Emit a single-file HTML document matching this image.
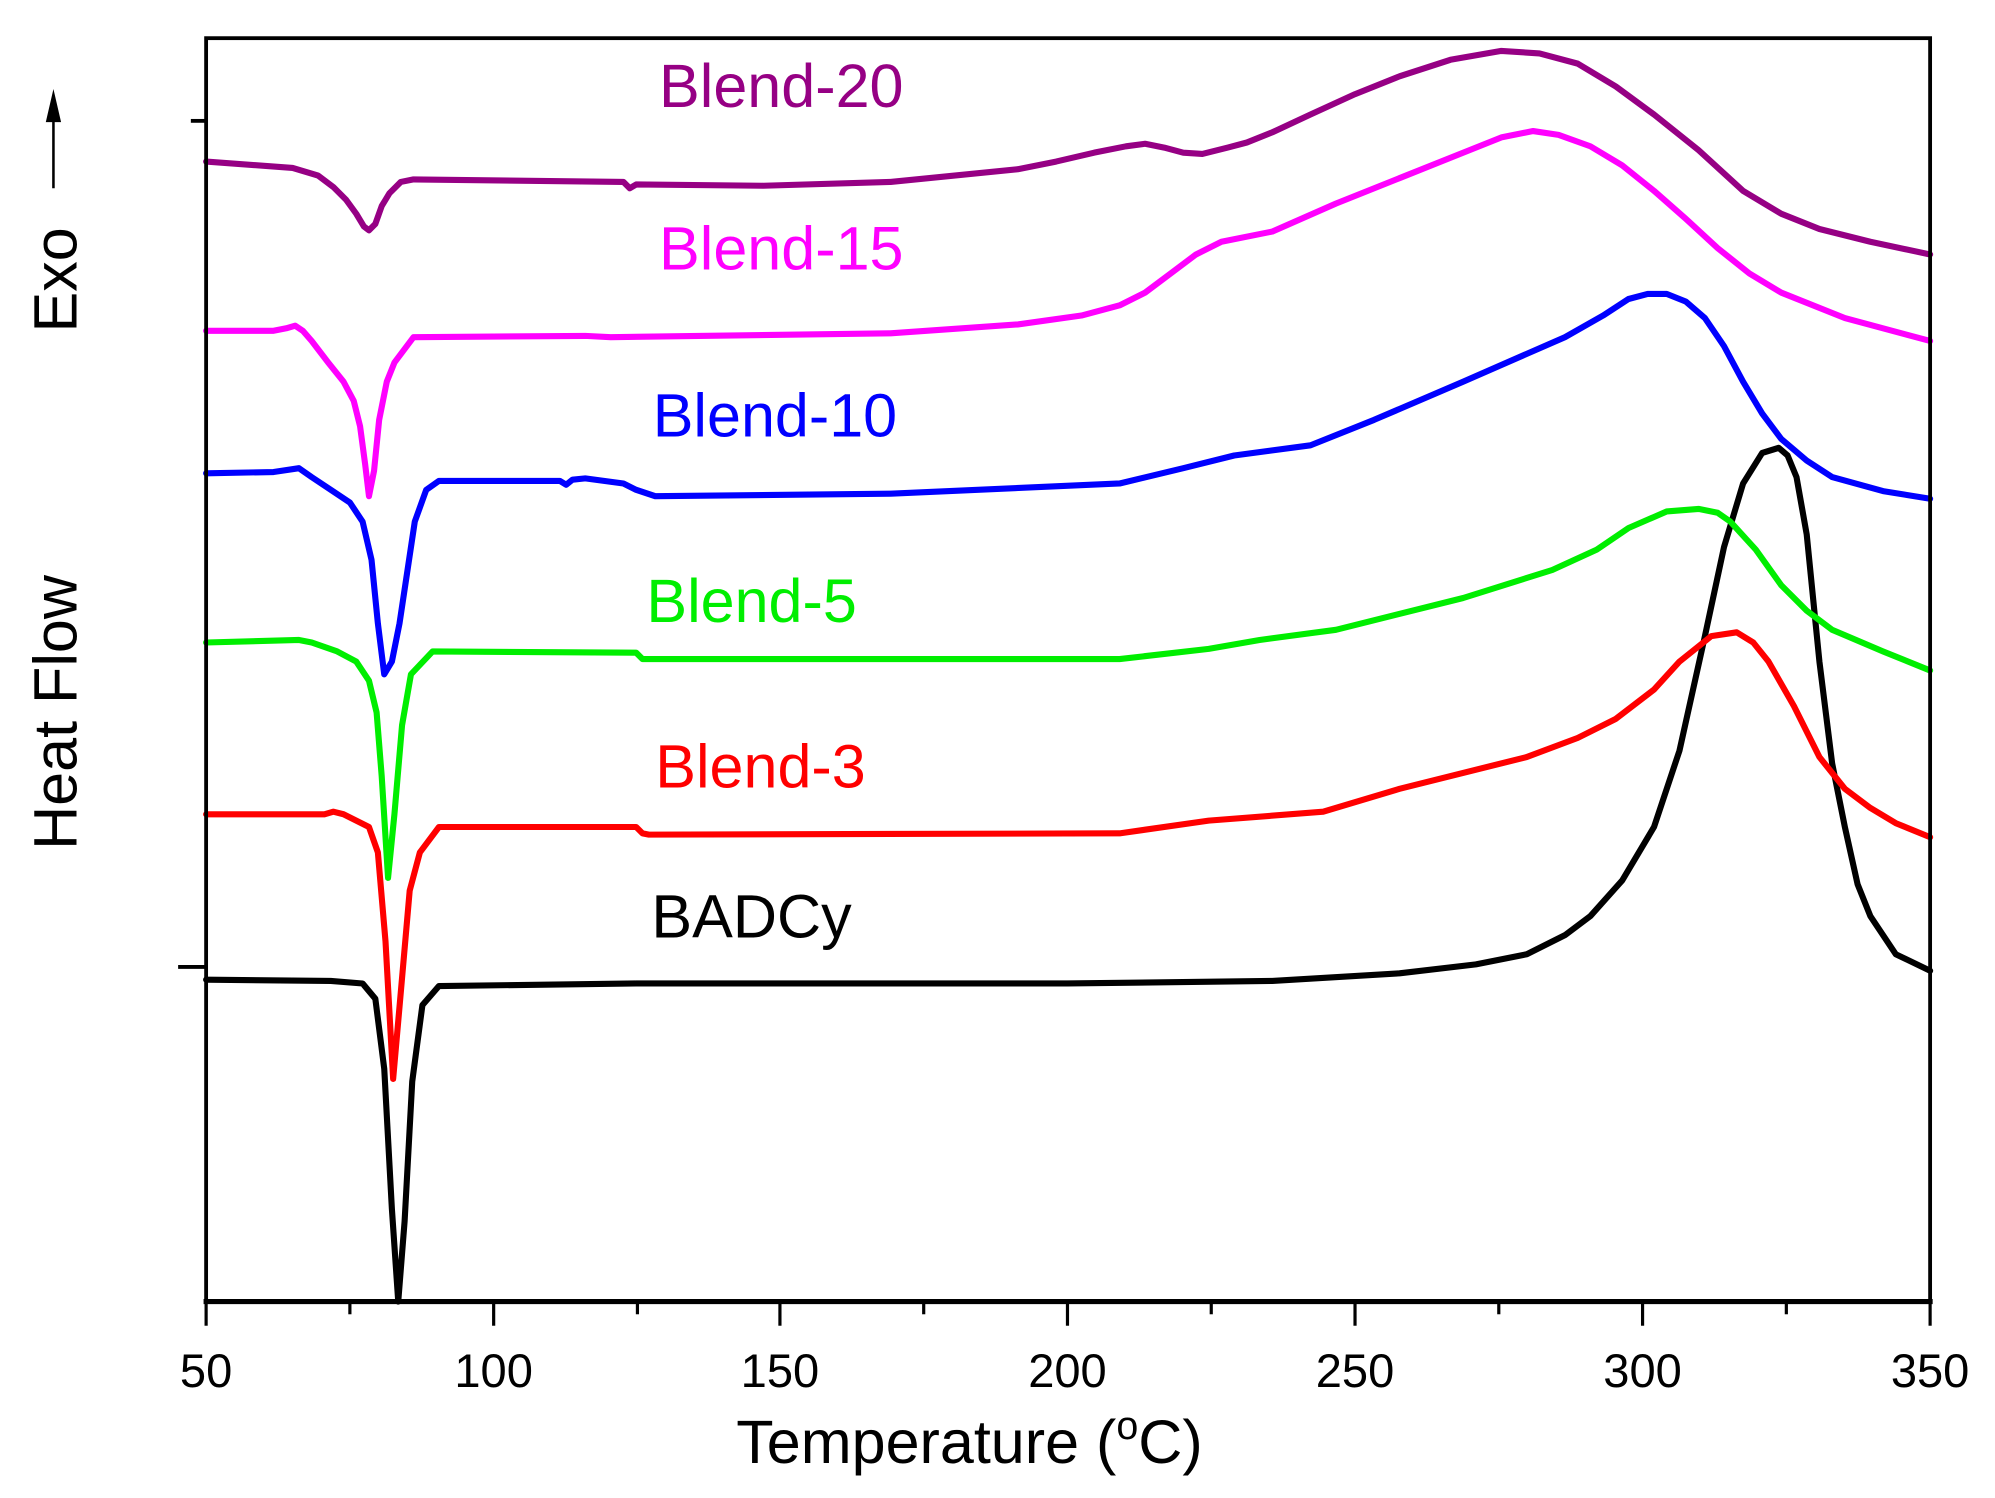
<!DOCTYPE html>
<html><head><meta charset="utf-8"><style>body{margin:0;background:#fff}svg{display:block}</style></head>
<body>
<svg width="1995" height="1498" viewBox="0 0 1568 1177.4" preserveAspectRatio="none" xmlns="http://www.w3.org/2000/svg" font-family="Liberation Sans, sans-serif">
<rect width="1568" height="1178" fill="#fff"/>
<g fill="none" stroke-width="4.8" stroke-linejoin="round" stroke-linecap="round">
<polyline stroke="#000" points="162,770 260,771 285,773 295,785 302,840 308,950 313,1023 318,960 324,850 332,790 345,775 500,773 839,773 1000,771 1100,765 1160,758 1200,750 1230,735 1250,720 1275,692 1300,650 1320,590 1340,500 1355,430 1370,380 1385,356 1398,352 1405,358 1412,375 1420,420 1430,520 1440,600 1450,650 1460,695 1470,720 1490,750 1517,763"/>
<polyline stroke="#ff0000" points="162,640 255,640 262,638 270,640 290,650 297,670 303,740 309,848 315,780 322,700 330,670 345,650 500,650 505,655 510,656 880,655 950,645 1040,638 1100,620 1200,595 1240,580 1270,565 1300,542 1320,520 1345,500 1365,497 1378,505 1390,520 1410,555 1430,595 1450,620 1470,635 1490,647 1517,658"/>
<polyline stroke="#00ee00" points="162,505 235,503 245,505 265,512 280,520 290,535 296,560 300,610 305,690 310,640 316,570 323,530 340,512 500,513 505,518 520,518 880,518 950,510 990,503 1050,495 1150,470 1220,448 1255,432 1280,415 1310,402 1335,400 1350,403 1360,410 1380,432 1400,460 1420,480 1440,495 1480,512 1517,527"/>
<polyline stroke="#0000ff" points="162,372 215,371 235,368 245,375 260,385 275,395 285,410 292,440 297,490 302,530 308,520 314,490 320,450 326,410 335,385 345,378 440,378 445,381 450,377 460,376 490,380 500,385 515,390 700,388 880,380 930,368 970,358 1030,350 1080,330 1150,300 1230,265 1260,248 1280,235 1295,231 1310,231 1325,237 1340,250 1355,272 1370,300 1385,325 1400,345 1420,362 1440,375 1480,386 1517,392"/>
<polyline stroke="#ff00ff" points="162,260 215,260 225,258 232,256 238,260 245,268 258,285 270,300 278,315 283,335 287,365 290,390 294,370 298,330 304,300 310,285 325,265 460,264 480,265 700,262 800,255 850,248 880,240 900,230 920,215 940,200 960,190 1000,182 1050,160 1100,140 1150,120 1180,108 1205,103 1225,106 1250,115 1275,130 1300,150 1325,172 1350,195 1375,215 1400,230 1450,250 1517,268"/>
<polyline stroke="#960084" points="162,127 230,132 250,138 262,147 272,157 280,168 286,178 290,181 295,176 300,162 306,152 315,143 325,141 490,143 495,148 500,145 600,146 700,143 800,133 830,127 860,120 885,115 900,113 915,116 930,120 945,121 965,116 980,112 1000,104 1030,90 1065,74 1100,60 1140,47 1180,40 1210,42 1240,50 1270,68 1300,90 1335,118 1370,150 1400,168 1430,180 1470,190 1517,200"/>
</g>
<g stroke="#000" fill="none">
<rect x="162" y="30" width="1355" height="993" stroke-width="3"/>
<line x1="160" y1="1023" x2="1519" y2="1023" stroke-width="4"/>
<g stroke-width="2.5">
<line x1="162" y1="1023" x2="162" y2="1042"/><line x1="388" y1="1023" x2="388" y2="1042"/><line x1="613" y1="1023" x2="613" y2="1042"/><line x1="839" y1="1023" x2="839" y2="1042"/><line x1="1065" y1="1023" x2="1065" y2="1042"/><line x1="1291" y1="1023" x2="1291" y2="1042"/><line x1="1517" y1="1023" x2="1517" y2="1042"/>
<line x1="275" y1="1023" x2="275" y2="1033"/><line x1="501" y1="1023" x2="501" y2="1033"/><line x1="726" y1="1023" x2="726" y2="1033"/><line x1="952" y1="1023" x2="952" y2="1033"/><line x1="1178" y1="1023" x2="1178" y2="1033"/><line x1="1404" y1="1023" x2="1404" y2="1033"/>
<line x1="150" y1="95" x2="162" y2="95" stroke-width="3"/><line x1="140" y1="760" x2="162" y2="760" stroke-width="3"/>
<line x1="42" y1="148" x2="42" y2="90" stroke-width="2"/>
</g>
</g>
<polygon points="42,70 36,96 48,96" fill="#000"/>
<g font-size="37" text-anchor="middle" fill="#000">
<text x="162" y="1090">50</text><text x="388" y="1090">100</text><text x="613" y="1090">150</text><text x="839" y="1090">200</text><text x="1065" y="1090">250</text><text x="1291" y="1090">300</text><text x="1517" y="1090">350</text>
</g>
<text x="762" y="1150" font-size="48" text-anchor="middle">Temperature (<tspan font-size="31" dy="-19">o</tspan><tspan dy="19">C)</tspan></text>
<text transform="translate(60,560) rotate(-90)" font-size="48" text-anchor="middle">Heat Flow</text>
<text transform="translate(60,220) rotate(-90)" font-size="48" text-anchor="middle">Exo</text>
<g font-size="48">
<text x="518" y="84" fill="#960084">Blend-20</text>
<text x="518" y="212" fill="#ff00ff">Blend-15</text>
<text x="513" y="343" fill="#0000ff">Blend-10</text>
<text x="508" y="489" fill="#00ee00">Blend-5</text>
<text x="515" y="619" fill="#ff0000">Blend-3</text>
<text x="512" y="737" fill="#000">BADCy</text>
</g>
</svg>
</body></html>
